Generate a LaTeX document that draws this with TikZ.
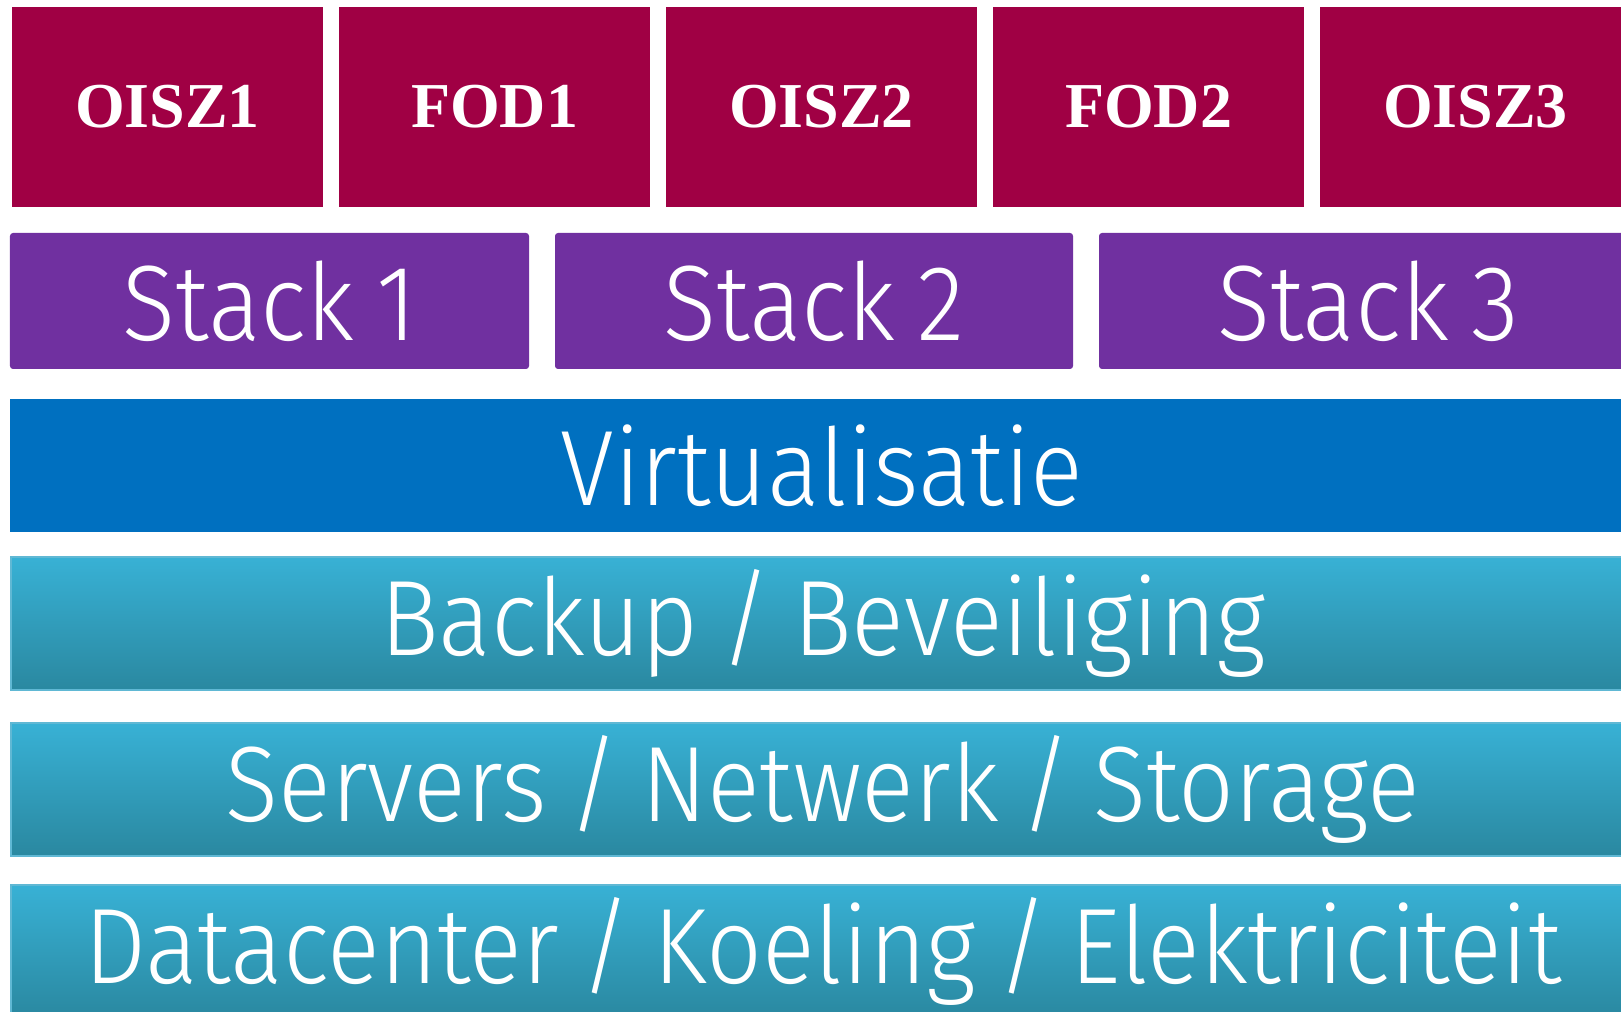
\documentclass[tikz,border=0pt]{standalone}
\usepackage{fontspec}
\setmainfont{Liberation Serif}
\newfontfamily\layerfont{Fira Sans Light}[FakeStretch=0.915,WordSpace=0.8]
\definecolor{orgred}{RGB}{160,0,68}
\definecolor{stackpurple}{RGB}{112,48,160}
\definecolor{virtblue}{RGB}{0,112,192}
\definecolor{layertop}{RGB}{56,177,213}
\definecolor{layermid}{RGB}{50,160,192}
\definecolor{layerbot}{RGB}{42,136,160}
\definecolor{layeredge}{RGB}{96,184,212}
\tikzset{
  orgbox/.style={fill=orgred,text=white,minimum width=31.1mm,minimum height=20mm,
    font=\fontsize{18.2}{20}\selectfont\bfseries},
  stackbox/.style={fill=stackpurple,text=white,rounded corners=0.3mm,minimum height=13.6mm,
    font=\layerfont\fontsize{30.5}{36}\selectfont},
  layerbox/.style={text=white,minimum width=162.4mm,minimum height=13.3mm,
    font=\layerfont\fontsize{30.5}{36}\selectfont},
  shadedlayer/.style={layerbox,draw=layeredge,line width=0.25mm,
    top color=layertop,middle color=layermid,bottom color=layerbot}
}
\begin{document}
\begin{tikzpicture}[x=1mm,y=-1mm]
  \useasboundingbox (0,0) rectangle (162.1,101.2);
  \clip (0,0) rectangle (162.1,101.2);

  % top row
  \foreach \x/\nm/\txt in {16.75/oisz1/OISZ1,49.45/fod1/FOD1,82.15/oisz2/OISZ2,
      114.85/fod2/FOD2,147.55/oisz3/OISZ3}
    \node[orgbox] (\nm) at (\x,10.7) {\txt};

  % stacks
  \node[stackbox,minimum width=51.9mm] (stack1) at (26.95,30.1) {Stack 1};
  \node[stackbox,minimum width=51.8mm] (stack2) at (81.4,30.1) {Stack 2};
  \node[stackbox,minimum width=53.8mm] (stack3) at (136.8,30.1) {Stack 3};

  % layers
  \node[layerbox,fill=virtblue] (virt) at (82.2,46.55) {Virtualisatie};
  \node[shadedlayer] (backup) at (82.3,62.35) {Backup / Beveiliging};
  \node[shadedlayer] (servers) at (82.3,78.95) {Servers / Netwerk / Storage};
  \node[shadedlayer] (datacenter) at (82.3,95.15) {Datacenter / Koeling / Elektriciteit};

\end{tikzpicture}
\end{document}
